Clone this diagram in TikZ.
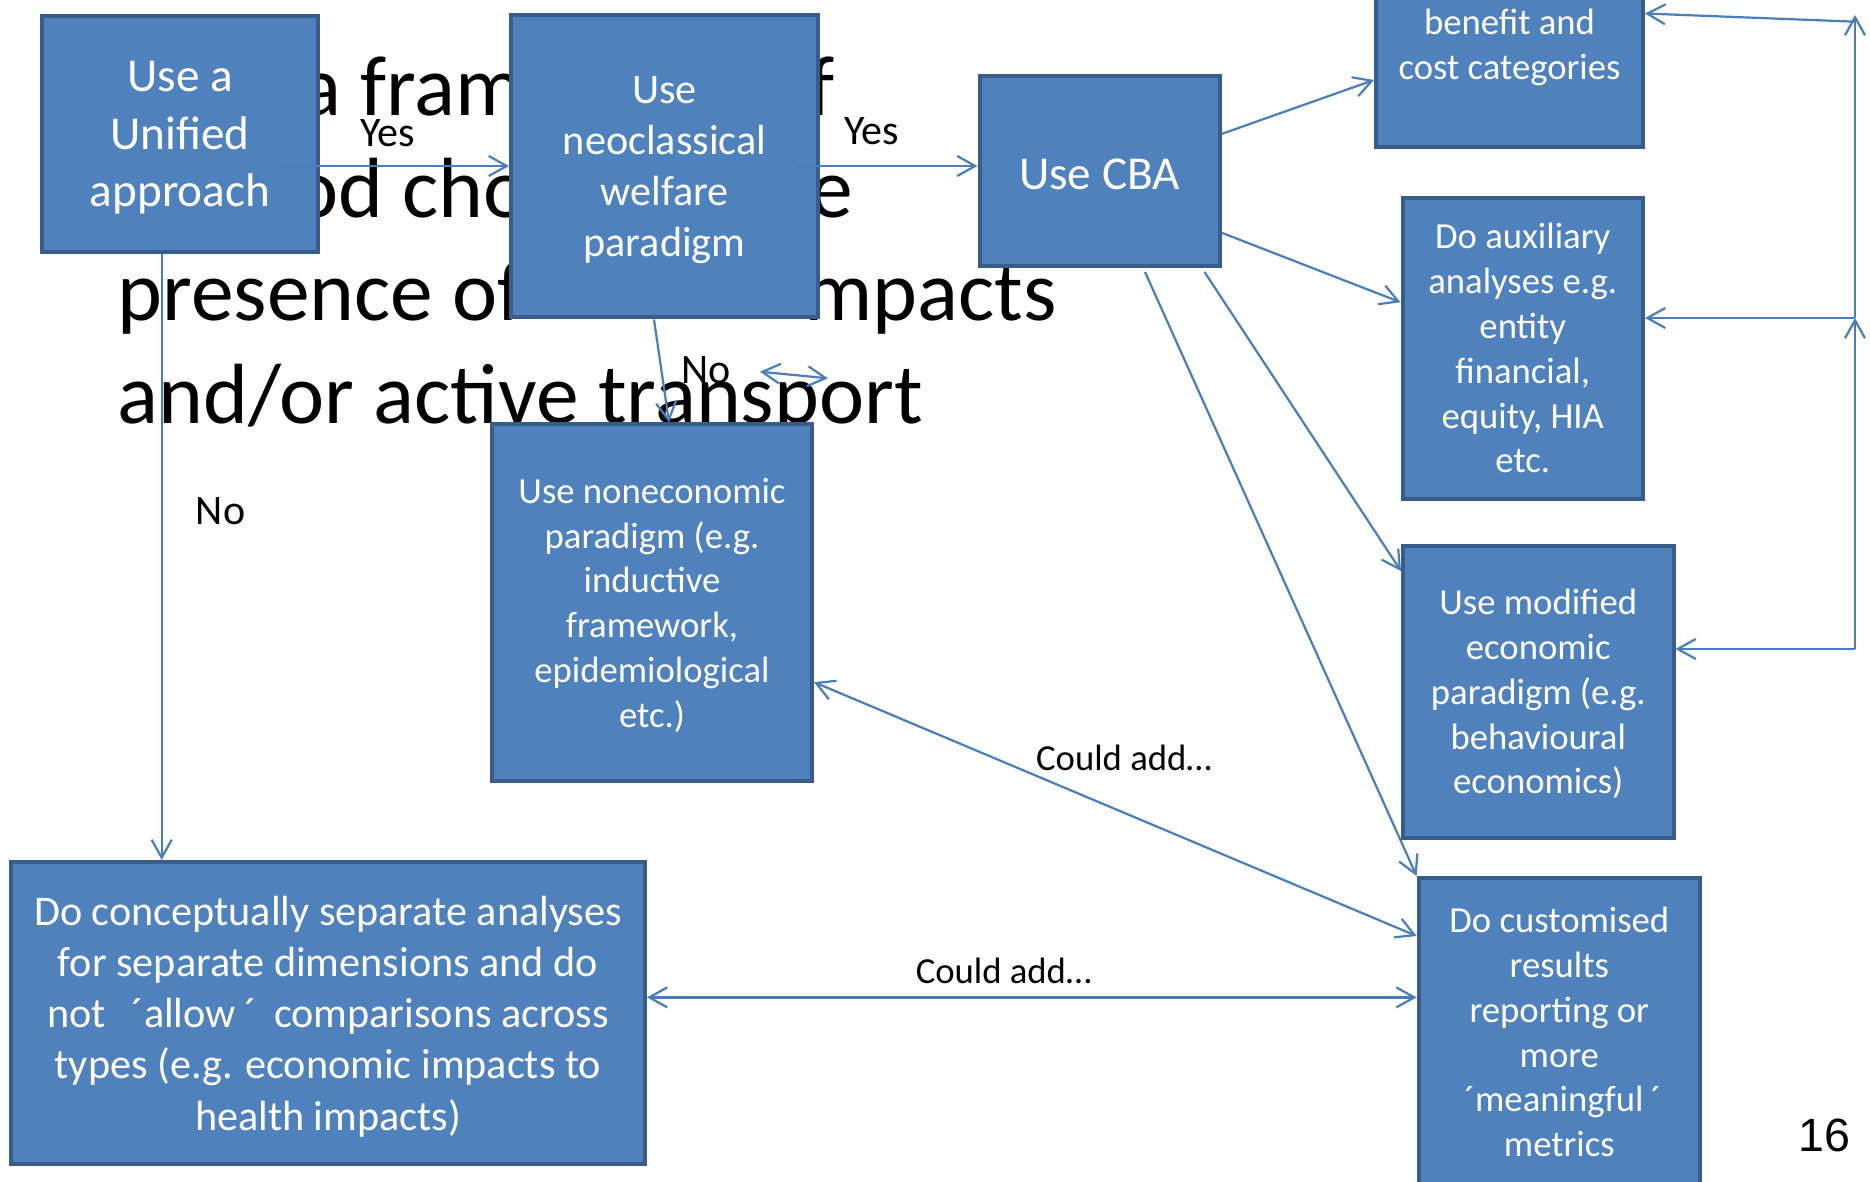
\documentclass[tikz,border=0pt]{standalone}
\usepackage{fontspec}
\setmainfont{Carlito}
\newfontfamily\numfont{Liberation Sans}
\usetikzlibrary{arrows.meta}

\definecolor{boxfill}{HTML}{4F81BD}
\definecolor{boxline}{HTML}{385D8A}
\definecolor{wire}{HTML}{4A7EBB}

% quotation ticks set in wide cells
\newcommand{\qopen}{\makebox[0.68em][r]{´}}
\newcommand{\qclose}{\makebox[0.68em]{´}}

\tikzset{
  boxtext/.style={text=white, align=center, inner sep=0pt, text depth=0pt},
  box/.style={boxtext, draw=boxline, fill=boxfill, line width=2pt, outer sep=1pt},
  bigtxt/.style={font=\fontsize{23.6}{28.9}\selectfont},
  midtxt/.style={font=\fontsize{21.1}{25.6}\selectfont},
  smalltxt/.style={font=\fontsize{18.35}{22.4}\selectfont},
  titletxt/.style={font=\fontsize{42.75}{51.35}\selectfont, anchor=base west, inner sep=0pt},
  lbl/.style={font=\fontsize{21}{25}\selectfont, anchor=base, inner sep=0pt},
  addlbl/.style={lbl, font=\fontsize{18.35}{22.4}\selectfont},
  barb/.tip={Straight Barb[length=9pt,width=10pt]},
  conn/.style={draw=wire, line width=1.1pt, -barb},
  dbl/.style={draw=wire, line width=1.1pt, barb-barb},
}

\begin{document}
\begin{tikzpicture}[x=0.5pt,y=-0.5pt]
\useasboundingbox (0,0) rectangle (1870,1182);
\clip (0,0) rectangle (1870,1182);
\fill[white] (0,0) rectangle (1870,1182);

% slide title, partly covered by the boxes
\node[titletxt] (t1a) at (300,115.5) {a fram};
\node[titletxt] (t1b) at (808,115.5) {f};
\node[titletxt] (t2a) at (293,218) {od cho};
\node[titletxt] (t2b) at (810,218) {e};
\node[titletxt] (t3a) at (117,320.5) {presence of};
\node[titletxt] (t3b) at (804,320.5) {mpacts};
\node[titletxt] (t4) at (117,423) {and/or active transport};

% boxes
\node[box, bigtxt, minimum width=138pt, minimum height=118pt] (A) at (180,134)
  {Use a\\Unified\\approach};
\node[box, midtxt, minimum width=153.5pt, minimum height=151pt] (B) at (664.5,166.5)
  {Use\\neoclassical\\welfare\\paradigm};
\node[box, bigtxt, text height=18.9pt, minimum width=120pt, minimum height=95pt] (C) at (1099.5,171)
  {Use CBA};
\node[box, minimum width=133.5pt, minimum height=127.5pt] (D) at (1509.5,19.5) {};
\node[boxtext, smalltxt] (Dt) at (1509.5,44)
  {benefit and\\cost categories};
\node[box, smalltxt, minimum width=120.25pt, minimum height=150.25pt] (E) at (1522.75,348.25)
  {Do auxiliary\\analyses e.g.\\entity\\financial,\\equity, HIA\\etc.};
\node[box, smalltxt, minimum width=135.25pt, minimum height=145.85pt] (F) at (1538.25,691.65)
  {Use modified\\economic\\paradigm (e.g.\\behavioural\\economics)};
\node[box, smalltxt, minimum width=140.7pt, minimum height=154pt] (G) at (1559.3,1032)
  {Do customised\\results\\reporting or\\more\\\qopen meaningful\qclose\\metrics};
\node[box, smalltxt, minimum width=160pt, minimum height=178.35pt] (H) at (652,602.65)
  {Use noneconomic\\paradigm (e.g.\\inductive\\framework,\\epidemiological\\etc.)};
\node[box, midtxt, minimum width=317pt, minimum height=151pt] (I) at (328,1013)
  {Do conceptually separate analyses\\for separate dimensions and do\\not \qopen allow\qclose{} comparisons across\\types (e.g. economic impacts to\\health impacts)};

% free ends of connectors
\coordinate (a1) at (280,166);
\coordinate (b1) at (797,166);
\coordinate (xA) at (161.7,0);
\coordinate (s1) at (760,371.7);
\coordinate (s2) at (827.8,378.3);
\coordinate (ig) at (0,997.4);
\coordinate (r1) at (1855,649);
\coordinate (r2) at (1855,318);
\coordinate (r3) at (1855,15);
\coordinate (r4) at (1855,21.7);

% connectors
\draw[conn] (a1) -- (a1 -| B.west);
\draw[conn] (b1) -- (b1 -| C.west);
\draw[conn] ([shift={(-10.5,0)}]B.south) -- ([shift={(17,0)}]H.north);
\draw[dbl] (s1) -- (s2);
\draw[conn] (A.south -| xA) -- (I.north -| xA);
\draw[conn] ([shift={(0,-37)}]C.east) -- ([shift={(0,60.5)}]D.west);
\draw[conn] ([shift={(0,61.7)}]C.east) -- ([shift={(0,-46)}]E.west);
\draw[conn] ([shift={(105,4)}]C.south) -- ([shift={(0,-120.6)}]F.west);
\draw[conn] ([shift={(45.5,4)}]C.south) -- (G.north west);
\draw[dbl] ([shift={(0,79.5)}]H.east) -- ([shift={(0,-96)}]G.west);
\draw[dbl] (I.east |- ig) -- (G.west |- ig);
\draw[conn] (r1) -- (r1 -| F.east);
\draw[conn] (r1) -- (r2);
\draw[conn] (r2) -- (r3);
\draw[conn] (r2) -- (r2 -| E.east);
\draw[conn] (r4) -- ([shift={(0,-6)}]D.east);

% connector labels
\node[lbl] (yes1) at (387.5,146.7) {Yes};
\node[lbl] (yes2) at (871.5,145) {Yes};
\node[lbl] (no1) at (706,383.3) {No};
\node[lbl] (no2) at (220.5,524.7) {No};
\node[addlbl] (add1) at (1124,770.9) {Could add…};
\node[addlbl] (add2) at (1003.6,983.3) {Could add…};

% slide number
\node[anchor=base, inner sep=0pt, font=\numfont\fontsize{23.3}{28}\selectfont] (pg) at (1824,1151.7) {16};
\end{tikzpicture}
\end{document}
